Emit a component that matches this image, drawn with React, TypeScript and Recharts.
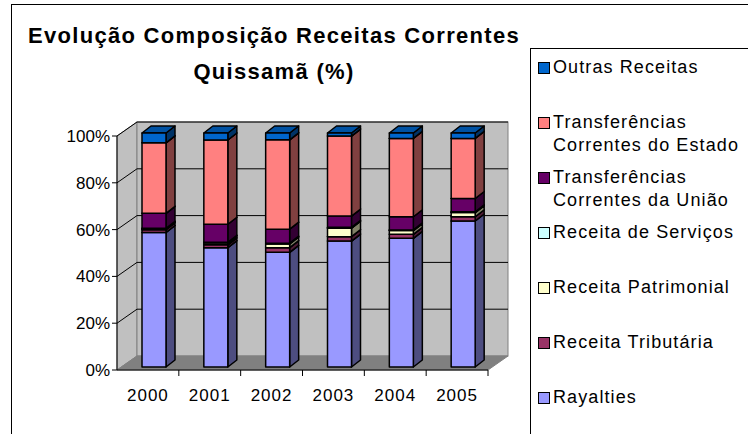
import React from "react";
import { BarChart, Bar, XAxis, YAxis } from "recharts";

const years = ["2000", "2001", "2002", "2003", "2004", "2005"];
const rayalties = [57.6, 51, 49, 53.8, 55, 62.4];
const tributaria = [1.2, 1.2, 2, 1.9, 1.7, 1.8];
const patrimonial = [0.4, 0.8, 1.6, 3.6, 1.6, 1.8];
const servicos = [0.2, 0.3, 0.3, 0.4, 0.3, 0.3];
const uniao = [6.4, 7.7, 6, 4.8, 5.6, 5.7];
const estado = [30.2, 36, 38.2, 34.2, 33.5, 25.7];
const outras = [4.2, 3, 2.9, 1.3, 2.3, 2.3];
const yTicks = [0, 0.2, 0.4, 0.6, 0.8, 1];

// stack order, bottom to top
const series = [
  { key: "rayalties", name: "Rayalties", values: rayalties, color: "#9999FF", side: "#4D4D80", top: "#7A7ACC" },
  { key: "tributaria", name: "Receita Tributária", values: tributaria, color: "#993366", side: "#4D1A33", top: "#7A2952" },
  { key: "patrimonial", name: "Receita Patrimonial", values: patrimonial, color: "#FFFFCC", side: "#808066", top: "#CCCCA3" },
  { key: "servicos", name: "Receita de Serviços", values: servicos, color: "#CCFFFF", side: "#668080", top: "#A3CCCC" },
  { key: "uniao", name: "Transferências\nCorrentes da União", values: uniao, color: "#660066", side: "#330033", top: "#520052" },
  { key: "estado", name: "Transferências\nCorrentes do Estado", values: estado, color: "#FF8080", side: "#804040", top: "#CC6666" },
  { key: "outras", name: "Outras Receitas", values: outras, color: "#0066CC", side: "#003366", top: "#0052A3" },
];

const data = years.map((year, i) => {
  const row: Record<string, string | number> = { year };
  series.forEach((s) => (row[s.key] = s.values[i]));
  return row;
});

const FONT = '"Liberation Sans", Arial, sans-serif';
const W = 748;
const H = 434;
// front plane of the plot area
const PL = 117;
const PR = 488;
const PT = 136;
const PB = 370;
// wall depth
const DX = 20;
const DY = 14;
// bar depth and position inside the box
const BDX = 9;
const BDY = 7;
const FX = 6;
const FY = -3;

function Box3D(props: any) {
  const { x, y, width, height, face, side, top } = props;
  if (x == null || y == null) return null;
  const x0 = x + FX;
  const y0 = y + FY;
  const w = width;
  const h = Math.max(height, 0);
  const st = { stroke: "#000", strokeWidth: 1.5, strokeLinejoin: "round" as const };
  return (
    <g>
      <polygon
        points={`${x0 + w},${y0} ${x0 + w + BDX},${y0 - BDY} ${x0 + w + BDX},${y0 + h - BDY} ${x0 + w},${y0 + h}`}
        fill={side}
        {...st}
      />
      <polygon
        points={`${x0},${y0} ${x0 + BDX},${y0 - BDY} ${x0 + w + BDX},${y0 - BDY} ${x0 + w},${y0}`}
        fill={top}
        {...st}
      />
      <rect x={x0} y={y0} width={w} height={h} fill={face} {...st} />
    </g>
  );
}

function Walls() {
  const yOf = (v: number) => PB - v * (PB - PT);
  const step = (PR - PL) / years.length;
  return (
    <svg width={W} height={H} style={{ position: "absolute", left: 0, top: 0 }}>
      {/* left wall */}
      <polygon
        points={`${PL},${PT} ${PL + DX},${PT - DY} ${PL + DX},${PB - DY} ${PL},${PB}`}
        fill="#C0C0C0"
        stroke="#808080"
      />
      {/* back wall */}
      <rect x={PL + DX} y={PT - DY} width={PR - PL} height={PB - PT} fill="#C0C0C0" stroke="#808080" />
      {/* floor */}
      <polygon
        points={`${PL},${PB} ${PR},${PB} ${PR + DX},${PB - DY} ${PL + DX},${PB - DY}`}
        fill="#808080"
        stroke="#808080"
      />
      {yTicks.slice(1).map((v) => (
        <g key={v}>
          <line x1={PL} y1={yOf(v)} x2={PL + DX} y2={yOf(v) - DY} stroke="#000" />
          <line x1={PL + DX} y1={yOf(v) - DY} x2={PR + DX} y2={yOf(v) - DY} stroke="#000" />
        </g>
      ))}
      {years.map((_, i) => (
        <line key={i} x1={PL + step * (i + 1)} y1={PB} x2={PL + step * (i + 1)} y2={PB + 6} stroke="#000" />
      ))}
    </svg>
  );
}

function LegendBox() {
  const items = [...series].reverse();
  return (
    <div
      style={{
        position: "absolute",
        left: 530,
        top: 48,
        width: 240,
        height: 420,
        border: "1px solid #000",
        background: "#fff",
      }}
    >
      {items.map((s, i) => (
        <div
          key={s.key}
          style={{ position: "absolute", left: 7, top: 7 + i * 55, display: "flex", alignItems: "flex-start" }}
        >
          <div
            style={{
              width: 10,
              height: 10,
              marginTop: 6,
              background: s.color,
              border: "1.5px solid #000",
              flex: "none",
            }}
          />
          <div
            style={{
              marginLeft: 3,
              fontFamily: FONT,
              fontSize: 18,
              lineHeight: "23px",
              letterSpacing: 1.1,
              whiteSpace: "pre",
              color: "#000",
            }}
          >
            {s.name}
          </div>
        </div>
      ))}
    </div>
  );
}

export default function App() {
  return (
    <div style={{ position: "absolute", left: 0, top: 0, width: W, height: H, background: "#fff", overflow: "hidden" }}>
      <div
        style={{
          position: "absolute",
          left: 11,
          top: 4,
          width: W,
          height: H,
          border: "1.5px solid #000",
        }}
      />
      <div
        style={{
          position: "absolute",
          left: 24,
          top: 18,
          width: 500,
          textAlign: "center",
          fontFamily: FONT,
          fontWeight: "bold",
          fontSize: 22,
          letterSpacing: 1.3,
          lineHeight: "36px",
          color: "#000",
        }}
      >
        Evolução Composição Receitas Correntes
        <br />
        Quissamã (%)
      </div>
      <Walls />
      <div style={{ position: "absolute", left: 0, top: 0 }}>
        <BarChart
          width={W}
          height={H}
          data={data}
          stackOffset="expand"
          barSize={24}
          margin={{ top: PT, bottom: H - PB - 32, left: PL - 60, right: W - PR }}
        >
          <XAxis
            dataKey="year"
            height={32}
            axisLine={{ stroke: "#000" }}
            tickLine={false}
            tickSize={6}
            tickMargin={13}
            tick={{ fill: "#000", fontSize: 17, fontFamily: FONT, letterSpacing: 1 }}
          />
          <YAxis
            width={60}
            domain={[0, 1]}
            ticks={yTicks}
            tickFormatter={(v: number) => `${Math.round(v * 100)}%`}
            axisLine={{ stroke: "#000" }}
            tickLine={{ stroke: "#000" }}
            tickSize={5}
            tickMargin={2}
            tick={{ fill: "#000", fontSize: 17, fontFamily: FONT }}
          />
          {series.map((s) => (
            <Bar
              key={s.key}
              dataKey={s.key}
              name={s.name}
              stackId="a"
              fill={s.color}
              isAnimationActive={false}
              shape={(p: any) => <Box3D {...p} face={s.color} side={s.side} top={s.top} />}
            />
          ))}
        </BarChart>
      </div>
      <LegendBox />
    </div>
  );
}
